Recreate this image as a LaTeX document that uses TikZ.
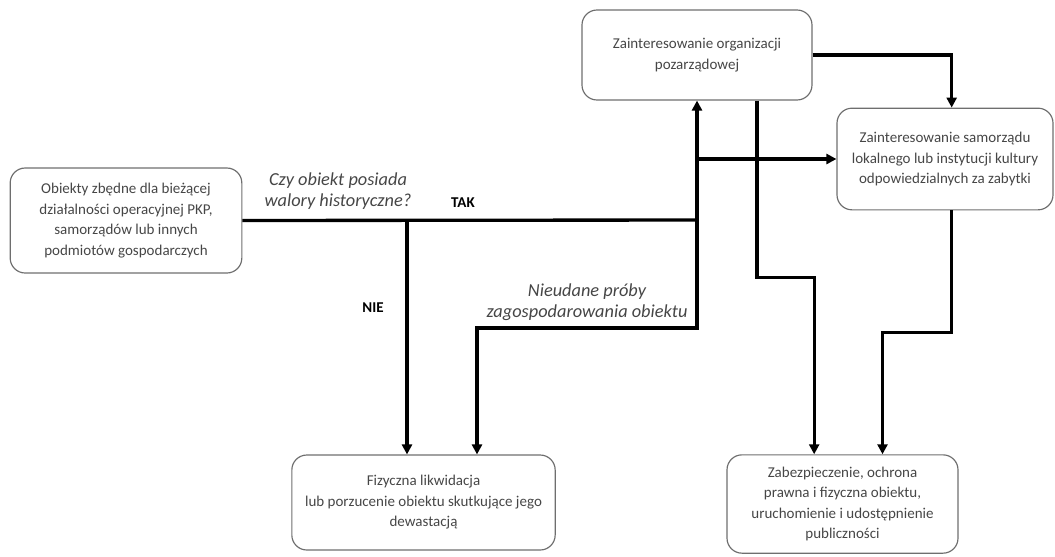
\documentclass[tikz,border=0pt]{standalone}
\usepackage{fontspec}
\setmainfont{Carlito}
\usepackage{tikz}
\usetikzlibrary{arrows.meta,positioning}
\definecolor{boxtext}{RGB}{70,70,70}
\definecolor{boxline}{RGB}{110,110,110}
\tikzset{
	box/.style={draw=boxline,line width=0.7pt,rounded corners=9pt,align=center,text=boxtext,
		font=\fontsize{9}{12.3}\selectfont,inner sep=2pt},
	link/.style={line width=2pt,-{Triangle[width=6pt,length=6pt]}},
	ask/.style={align=center,text=boxtext,font=\fontsize{11}{12.6}\selectfont\itshape},
	answer/.style={font=\fontsize{9}{10}\selectfont\bfseries}
}

\begin{document}
\begin{tikzpicture}[x=0.6pt,y=-0.6pt]
\useasboundingbox (0,0) rectangle (1055,556);
% boxes
\node[box,minimum width=139pt,minimum height=63pt] (src) at (126,220.5)
	{Obiekty zbędne dla bieżącej\\działalności operacyjnej PKP,\\samorządów lub innych\\podmiotów gospodarczych};
\node[box,minimum width=138pt,minimum height=54pt] (ngo) at (697,55)
	{Zainteresowanie organizacji\\pozarządowej};
\node[box,minimum width=129.6pt,minimum height=61pt] (gov) at (945,159)
	{Zainteresowanie samorządu\\lokalnego lub instytucji kultury\\odpowiedzialnych za zabytki};
\node[box,minimum width=158pt,minimum height=57pt] (ruin) at (423.5,502.5)
	{Fizyczna likwidacja\\lub porzucenie obiektu skutkujące jego\\dewastacją};
\node[box,minimum width=138.6pt,minimum height=59pt] (save) at (842.5,504)
	{Zabezpieczenie, ochrona\\prawna i fizyczna obiektu,\\uruchomienie i udostępnienie\\publiczności};
% labels
\node[ask] (q) at (338,191) {Czy obiekt posiada\\walory historyczne?};
\node[answer] (yes) at (463,203) {TAK};
\node[answer] (no) at (373,308) {NIE};
\node[ask] (failtxt) at (587,302) {Nieudane próby\\zagospodarowania obiektu};
% junctions
\coordinate (j1) at (697,220);
\coordinate (nie) at (407,220);
\coordinate (fail) at (477,328);
% connectors
\draw[line width=2pt] (src.east) -- (j1);
\draw[link] (j1) -- (ngo.south);
\draw[link] (j1 |- gov.west) -- (gov.west);
\draw[link] (nie) -- (nie |- ruin.north);
\draw[link] (j1) |- (fail) -- (fail |- ruin.north);
\draw[link] (ngo.east) -| ([xshift=4pt]gov.north);
\draw[link] ([xshift=36pt]ngo.south) -- ++(0,177) -| ([xshift=-17pt]save.north);
\draw[link] ([xshift=4pt]gov.south) -- ++(0,122) -| ([xshift=24pt]save.north);
\end{tikzpicture}
\end{document}
